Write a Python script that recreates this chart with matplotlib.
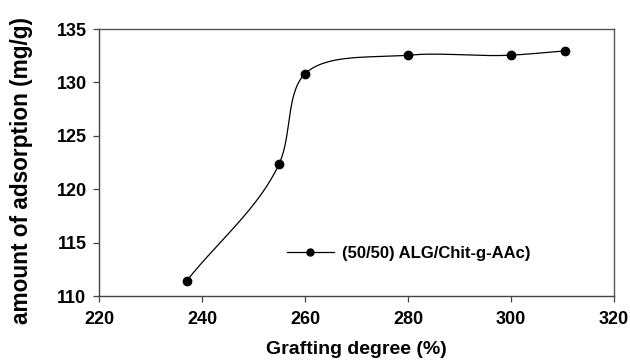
import numpy as np
import matplotlib
matplotlib.use("Agg")
import matplotlib.pyplot as plt
from matplotlib.lines import Line2D

# data
grafting = [237, 255, 260, 280, 300, 310.5]
adsorption = [111.4, 122.4, 130.8, 132.55, 132.55, 132.95]
label = "(50/50) ALG/Chit-g-AAc)"

XMIN, XMAX, YMIN, YMAX = 220, 320, 110, 135


def catmull_rom(x, y, n=60, alpha=0.5):
    # catmull-rom done in screen-like units so it bends like the plot software smoothing
    sx = (np.asarray(x) - XMIN) / (XMAX - XMIN) * 515
    sy = (np.asarray(y) - YMIN) / (YMAX - YMIN) * 267
    P = np.column_stack([sx, sy])
    P = np.vstack([2 * P[0] - P[1], P, 2 * P[-1] - P[-2]])
    out = []
    for i in range(1, len(P) - 2):
        p0, p1, p2, p3 = P[i - 1], P[i], P[i + 1], P[i + 2]
        t0 = 0.0
        t1 = t0 + np.linalg.norm(p1 - p0) ** alpha
        t2 = t1 + np.linalg.norm(p2 - p1) ** alpha
        t3 = t2 + np.linalg.norm(p3 - p2) ** alpha
        t = np.linspace(t1, t2, n)[:, None]
        a1 = (t1 - t) / (t1 - t0) * p0 + (t - t0) / (t1 - t0) * p1
        a2 = (t2 - t) / (t2 - t1) * p1 + (t - t1) / (t2 - t1) * p2
        a3 = (t3 - t) / (t3 - t2) * p2 + (t - t2) / (t3 - t2) * p3
        b1 = (t2 - t) / (t2 - t0) * a1 + (t - t0) / (t2 - t0) * a2
        b2 = (t3 - t) / (t3 - t1) * a2 + (t - t1) / (t3 - t1) * a3
        c = (t2 - t) / (t2 - t1) * b1 + (t - t1) / (t2 - t1) * b2
        out.append(c)
    C = np.vstack(out)
    return (C[:, 0] / 515 * (XMAX - XMIN) + XMIN,
            C[:, 1] / 267 * (YMAX - YMIN) + YMIN)


plt.rcParams['font.family'] = ['Liberation Sans', 'DejaVu Sans']
plt.rcParams['font.weight'] = 'bold'

fig = plt.figure(figsize=(6.3, 3.6), dpi=100)
ax = fig.add_axes([99 / 630, 1 - 296 / 360, 515 / 630, 267 / 360])

cx, cy = catmull_rom(grafting, adsorption, alpha=1.0)
ax.plot(cx, cy, color='black', linewidth=0.9)
ax.plot(grafting, adsorption, linestyle='', marker='o', markersize=6, color='black')

ax.set_xlim(XMIN, XMAX)
ax.set_ylim(YMIN, YMAX)
ax.set_xticks(np.arange(220, 321, 20))
ax.set_yticks(np.arange(110, 136, 5))
ax.tick_params(direction='out', length=4, width=0.9, color='#444444', labelsize=13)
ax.tick_params(axis='x', pad=7)
ax.tick_params(axis='y', pad=5)
ax.tick_params(top=False, right=False)
for side in ['top', 'right']:
    ax.spines[side].set_color('#555555')
for side in ['left', 'bottom']:
    ax.spines[side].set_color('#444444')
for s in ax.spines.values():
    s.set_linewidth(1.0)

ax.set_xlabel('Grafting degree (%)', fontsize=14, fontweight='bold', labelpad=9)
ax.set_ylabel('amount of adsorption (mg/g)', fontsize=16.3, fontweight='bold')
ax.yaxis.set_label_coords(-0.128, 0.47)

handle = Line2D([], [], color='black', linewidth=0.9, marker='o', markersize=5)
ax.legend([handle], [label], loc='center left', bbox_to_anchor=(0.336, 0.16),
          frameon=False, handlelength=2.8, handletextpad=0.5,
          prop={'weight': 'bold', 'size': 12})

fig.savefig('out.png', dpi=100)
